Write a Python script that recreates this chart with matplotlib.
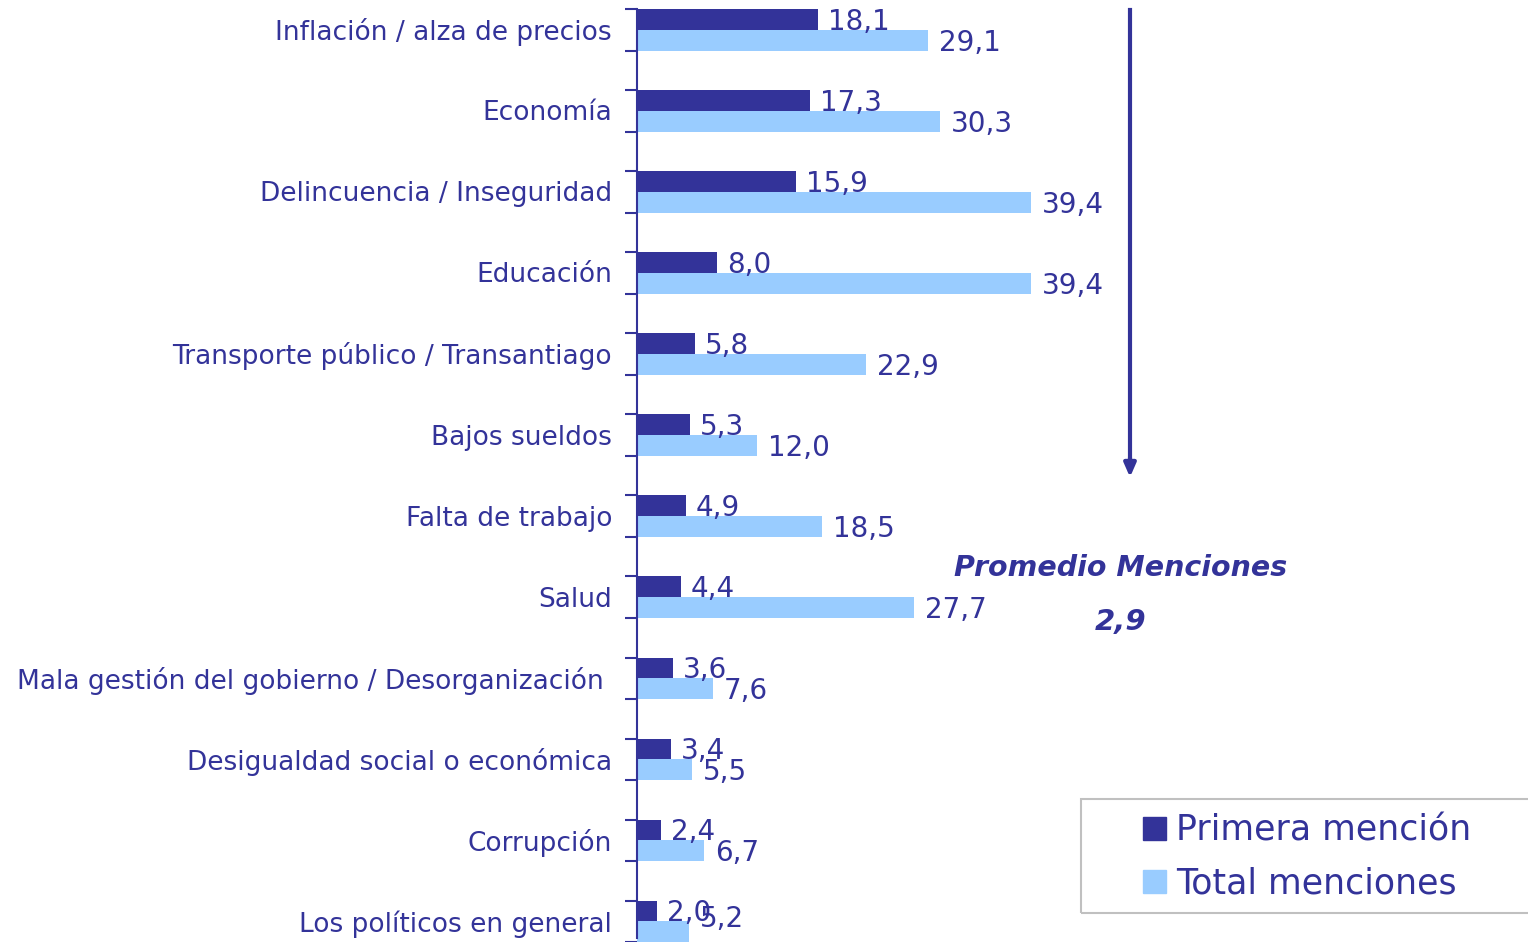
import matplotlib
matplotlib.use("Agg")
import matplotlib.pyplot as plt
from matplotlib.patches import Rectangle, Patch

# data
categorias = ["Inflación / alza de precios", "Economía", "Delincuencia / Inseguridad",
              "Educación", "Transporte público / Transantiago", "Bajos sueldos",
              "Falta de trabajo", "Salud",
              "Mala gestión del gobierno / Desorganización ",
              "Desigualdad social o económica", "Corrupción", "Los políticos en general"]
primera = [18.1, 17.3, 15.9, 8.0, 5.8, 5.3, 4.9, 4.4, 3.6, 3.4, 2.4, 2.0]
total = [29.1, 30.3, 39.4, 39.4, 22.9, 12.0, 18.5, 27.7, 7.6, 5.5, 6.7, 5.2]
promedio = "2,9"

azul = "#333399"
celeste = "#99CCFF"

W, H = 1528, 942
pitch = 81.4
top = 30
fig = plt.figure(figsize=(W / 100, H / 100), dpi=100)
ax = fig.add_axes([637 / W, 0, (W - 637) / W, 1])

pos = list(range(len(categorias)))
h = 0.255
ax.barh([p - h / 2 for p in pos], primera, height=h, color=azul, clip_on=False)
ax.barh([p + h / 2 for p in pos], total, height=h, color=celeste, clip_on=False)

ax.set_xlim(0, (W - 637) / 10)
ax.set_ylim((H - top) / pitch, -top / pitch)
ymax_lbl = (923 - top) / pitch  # keep the last labels inside the picture

def fmt(v):
    return f"{v:.1f}".replace(".", ",")

for p, v in zip(pos, primera):
    ax.text(v + 1.0, min(p - h / 2 + 0.03, ymax_lbl - 0.05), fmt(v), color=azul,
            fontsize=20, va="center", ha="left")
for p, v in zip(pos, total):
    ax.text(v + 1.1, min(p + h / 2 + 0.03, ymax_lbl), fmt(v), color=azul,
            fontsize=20, va="center", ha="left")
for p, c in zip(pos, categorias):
    ax.text(-2.5, p + 0.03, c, color=azul, fontsize=19, va="center", ha="right")

# axis styling
for s in ["top", "right", "bottom"]:
    ax.spines[s].set_visible(False)
ax.spines["left"].set_color(azul)
ax.spines["left"].set_linewidth(1.5)
ax.spines["left"].set_bounds(-h, (H - top) / pitch)
ticks = []
for p in pos:
    ticks += [p - h, p + h]
ax.set_yticks(ticks)
ax.set_yticklabels([])
ax.tick_params(axis="y", length=9, width=1.5, color=azul, direction="out")
ax.set_xticks([])

# arrow + promedio
fig.add_artist(plt.Line2D([1130 / W, 1130 / W], [1 - 10 / H, 1 - 465 / H],
                          color=azul, lw=3))
ax.annotate("", xy=(1130 / W, 1 - 480 / H), xytext=(1130 / W, 1 - 455 / H),
            xycoords="figure fraction", textcoords="figure fraction",
            arrowprops=dict(arrowstyle="-|>,head_length=0.8,head_width=0.35",
                            color=azul, lw=3))
fig.text(1121 / W, 1 - 568 / H, "Promedio Menciones", color=azul, fontsize=20.5,
         fontweight="bold", fontstyle="italic", ha="center", va="center")
fig.text(1121 / W, 1 - 622 / H, promedio, color=azul, fontsize=21,
         fontweight="bold", fontstyle="italic", ha="center", va="center")

# legend box
fig.add_artist(Rectangle((1081 / W, 1 - 913 / H), 460 / W, 114 / H,
                         transform=fig.transFigure, fill=False,
                         edgecolor="#c0c0c0", lw=1.5))
handles = [Patch(color=azul, label="Primera mención"),
           Patch(color=celeste, label="Total menciones")]
leg = fig.legend(handles=handles, loc="center left",
                 bbox_to_anchor=(1112 / W, 1 - 857 / H), frameon=False,
                 fontsize=25, handlelength=0.65, handleheight=0.65,
                 handletextpad=0.3, labelspacing=0.55)
for t in leg.get_texts():
    t.set_color(azul)

fig.savefig("out.png", dpi=100)
